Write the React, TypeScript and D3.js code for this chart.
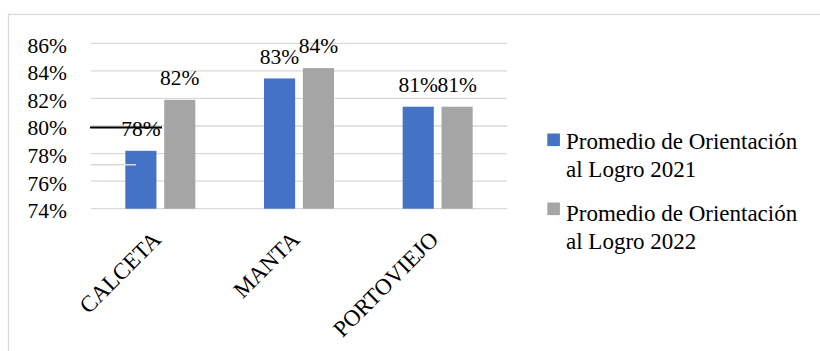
import React from "react";
import * as d3 from "d3";

const categories = ["CALCETA", "MANTA", "PORTOVIEJO"];
const seriesNames = ["Promedio de Orientación al Logro 2021", "Promedio de Orientación al Logro 2022"];
const values2021 = [0.782, 0.8345, 0.814];
const values2022 = [0.819, 0.842, 0.814];
const labels2021 = ["78%", "83%", "81%"];
const labels2022 = ["82%", "84%", "81%"];
const yTicks = [0.74, 0.76, 0.78, 0.8, 0.82, 0.84, 0.86];
const legendLines = [
  ["Promedio de Orientación", "al Logro 2021"],
  ["Promedio de Orientación", "al Logro 2022"],
];
const colors = ["#4472C4", "#A5A5A5"];

const W = 820;
const H = 351;
const FONT = "Liberation Serif";
const FS = 21.5;
const FS_BIG = 23;

export default function App() {
  const x = d3.scaleBand<string>().domain(categories).range([91, 507]).paddingInner(0).paddingOuter(0);
  const xSub = d3.scaleBand<string>().domain(seriesNames).range([-35, 35]).paddingInner(0.2);
  const y = d3.scaleLinear().domain([0.74, 0.86]).range([208.7, 43.3]);
  const series = [values2021, values2022];
  const labels = [labels2021, labels2022];
  const fmt = d3.format(".0%");

  return (
    <svg width={W} height={H} style={{ position: "absolute", left: 0, top: 0 }}>
      <rect x={0} y={0} width={W} height={H} fill="#fff" />
      <rect x={8.5} y={14.5} width={W + 10} height={H + 10} fill="none" stroke="#d9d9d9" strokeWidth={1.3} />
      {yTicks.map((t) => (
        <g key={t}>
          <line x1={91} x2={507} y1={y(t)} y2={y(t)} stroke="#d9d9d9" strokeWidth={1.3} />
          <text x={67} y={y(t) + 9.4} textAnchor="end" fontSize={FS} fontFamily={FONT} fill="#000">
            {fmt(t)}
          </text>
        </g>
      ))}
      {categories.map((c, i) => {
        const cx = (x(c) as number) + x.bandwidth() / 2;
        return (
          <g key={c}>
            {series.map((s, k) => {
              const bx = cx + (xSub(seriesNames[k]) as number);
              return (
                <g key={k}>
                  <rect x={bx} y={y(s[i])} width={xSub.bandwidth()} height={y(0.74) - y(s[i])} fill={colors[k]} />
                  <text x={bx + xSub.bandwidth() / 2} y={y(s[i]) - 14.7} textAnchor="middle" fontSize={FS} fontFamily={FONT} fill="#000">
                    {labels[k][i]}
                  </text>
                </g>
              );
            })}
            <text
              transform={`translate(${cx + 2},${241}) rotate(-45)`}
              textAnchor="end"
              fontSize={FS_BIG}
              fontFamily={FONT}
              fill="#000"
            >
              {c}
            </text>
          </g>
        );
      })}
      {/* stray lines present in the reference */}
      <line x1={90} x2={162} y1={y(0.8) + 1.5} y2={y(0.8) + 1.5} stroke="#000" strokeWidth={2} />
      <line x1={91} x2={136} y1={164.7} y2={164.7} stroke="#d9d9d9" strokeWidth={1.5} />
      {legendLines.map((lines, k) => (
        <g key={k}>
          <rect x={547.3} y={133.5 + k * 69} width={12.6} height={12.6} fill={colors[k]} />
          {lines.map((ln, j) => (
            <text key={j} x={566} y={148.5 + k * 72.5 + j * 28.3} fontSize={FS_BIG} fontFamily={FONT} fill="#000">
              {ln}
            </text>
          ))}
        </g>
      ))}
    </svg>
  );
}
